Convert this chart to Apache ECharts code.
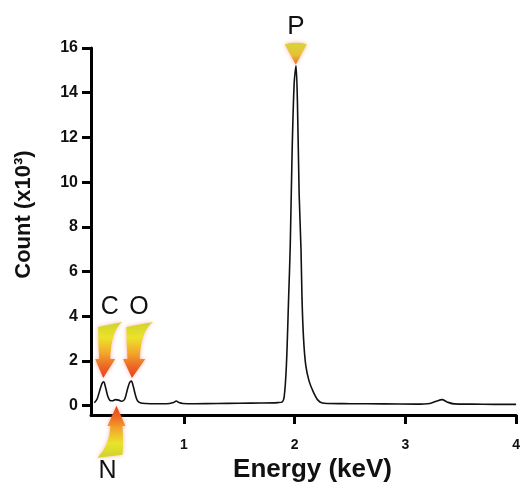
<!DOCTYPE html>
<html>
<head>
<meta charset="utf-8">
<script src="https://cdn.jsdelivr.net/npm/echarts@6/dist/echarts.min.js"></script>
<style>
html,body{margin:0;padding:0;background:#fff;}
#chart{width:523px;height:488px;}
</style>
</head>
<body>
<div id="chart"></div>
<script>
// Spectrum: energy (keV) and count (x10^3)
var energy = [0.19,0.215,0.24,0.26,0.275,0.29,0.31,0.33,0.355,0.38,0.41,0.44,0.465,0.49,0.51,0.525,0.54,0.56,0.58,0.61,0.66,0.72,0.80,0.87,0.905,0.93,0.955,0.99,1.1,1.3,1.5,1.7,1.85,1.885,1.905,1.925,1.945,1.96,1.976,1.995,2.012,2.025,2.04,2.057,2.066,2.08,2.10,2.13,2.17,2.21,2.25,2.3,2.5,2.8,3.1,3.22,3.28,3.33,3.38,3.44,3.6,3.8,4.0];
var count  = [0.13,0.3,0.7,1.0,1.07,0.85,0.45,0.24,0.22,0.27,0.25,0.2,0.3,0.75,1.05,1.1,0.9,0.5,0.22,0.12,0.1,0.09,0.09,0.1,0.14,0.21,0.14,0.1,0.09,0.1,0.11,0.12,0.14,0.16,0.4,1.8,4.8,7.2,11.2,14.4,15.2,13.5,9.5,7.0,4.8,3.0,1.8,1.1,0.6,0.25,0.12,0.1,0.09,0.08,0.07,0.1,0.2,0.27,0.16,0.08,0.07,0.06,0.06];
var xTicks = [1,2,3,4];
var yTicks = [0,2,4,6,8,10,12,14,16];
// Peak annotation anchors [energy, count]
var peakNames = ['C','O','N','P'];
var peakAnchors = [[0.27,1.24],[0.53,1.24],[0.39,0.0],[2.01,15.25]];

var seriesData = energy.map(function(e,i){return [e,count[i]];});

var downGrad = {type:'linear',x:0,y:0,x2:0,y2:1,colorStops:[
  {offset:0,color:'#cfd22c'},{offset:0.28,color:'#ebe32a'},{offset:0.55,color:'#f2a82a'},
  {offset:0.78,color:'#ee6a26'},{offset:1,color:'#e24420'}]};
var upGrad = {type:'linear',x:0,y:1,x2:0,y2:0,colorStops:[
  {offset:0,color:'#cfd22c'},{offset:0.28,color:'#ebe32a'},{offset:0.55,color:'#f2a82a'},
  {offset:0.78,color:'#ee6a26'},{offset:1,color:'#e24420'}]};
var triGrad = {type:'linear',x:0,y:0,x2:0,y2:1,colorStops:[
  {offset:0,color:'#d8d43a'},{offset:0.55,color:'#e6c234'},{offset:1,color:'#ea6a2a'}]};

var arrowDown = 'path://M3 5 L27 0 Q16 8 15 37 L20 37 L8 56 L0 37 L4 37 Q3 20 3 5 Z';
var arrowUp = 'path://M19 0 L28 20 L25 20 Q26 38 25 48 L0 51 Q12 40 13 20 L10 20 Z';
var tri = 'path://M0 0 Q11 -3 22 0 L11 22 Z';

var glow = {shadowBlur:4, shadowColor:'rgba(235,90,50,0.45)'};
var letterStyle = {show:true,color:'#111',fontFamily:'Liberation Sans, Arial, sans-serif',fontSize:25,fontWeight:'normal'};
function lbl(pos, off, dist, size){
  return Object.assign({}, letterStyle, {position:pos, offset:off, distance:dist, fontSize:size||25});
}
var mpStyles = [
  {symbol:arrowDown, symbolSize:[27,56], symbolOffset:[5.5,-28], itemStyle:Object.assign({color:downGrad},glow), label:lbl('top',[1,0],2)},
  {symbol:arrowDown, symbolSize:[30,56], symbolOffset:[6.1,-28], itemStyle:Object.assign({color:downGrad},glow), label:lbl('top',[1,0],2)},
  {symbol:arrowUp, symbolSize:[28,52], symbolOffset:[-5,26], itemStyle:Object.assign({color:upGrad},glow), label:lbl('bottom',[-4,0],1)},
  {symbol:tri, symbolSize:[22,22], symbolOffset:[0,-11], itemStyle:Object.assign({color:triGrad},glow), label:lbl('top',[0,0],3,26)}
];
var markData = peakNames.map(function(n,i){
  return Object.assign({name:n, coord:peakAnchors[i], value:n}, mpStyles[i], {label:Object.assign({}, mpStyles[i].label, {formatter:n})});
});

var chart = echarts.init(document.getElementById('chart'));
chart.setOption({
  animation:false,
  backgroundColor:'#ffffff',
  grid:{left:91,right:6,top:48,bottom:70.5,containLabel:false},
  xAxis:{
    type:'value', min:0.16, max:4,
    name:'Energy (keV)', nameLocation:'middle', nameGap:34,
    nameTextStyle:{fontFamily:'Liberation Sans, Arial, sans-serif',fontWeight:'bold',fontSize:26,color:'#111',padding:[0,0,0,18]},
    axisLine:{show:true,onZero:false,lineStyle:{color:'#000',width:3}},
    axisTick:{show:true,length:9,lineStyle:{color:'#000',width:3},customValues:xTicks},
    axisLabel:{show:true,margin:23,fontFamily:'Liberation Sans, Arial, sans-serif',fontWeight:'bold',fontSize:14,color:'#111',customValues:xTicks},
    splitLine:{show:false}
  },
  yAxis:{
    type:'value', min:-0.42, max:16,
    name:'Count (x10³)', nameLocation:'middle', nameGap:56,
    nameTextStyle:{fontFamily:'Liberation Sans, Arial, sans-serif',fontWeight:'bold',fontSize:22,color:'#111',padding:[0,0,0,34]},
    axisLine:{show:true,onZero:false,lineStyle:{color:'#000',width:3}},
    axisTick:{show:true,length:9,lineStyle:{color:'#000',width:3},customValues:yTicks},
    axisLabel:{show:true,margin:13,fontFamily:'Liberation Sans, Arial, sans-serif',fontWeight:'bold',fontSize:16,color:'#111',customValues:yTicks},
    splitLine:{show:false}
  },
  series:[{
    type:'line',
    data:seriesData,
    showSymbol:false,
    smooth:0.3,
    lineStyle:{color:'#111',width:1.6},
    z:2,
    markPoint:{
      z:5,
      silent:true,
      data:markData
    }
  }]
});
</script>
</body>
</html>
